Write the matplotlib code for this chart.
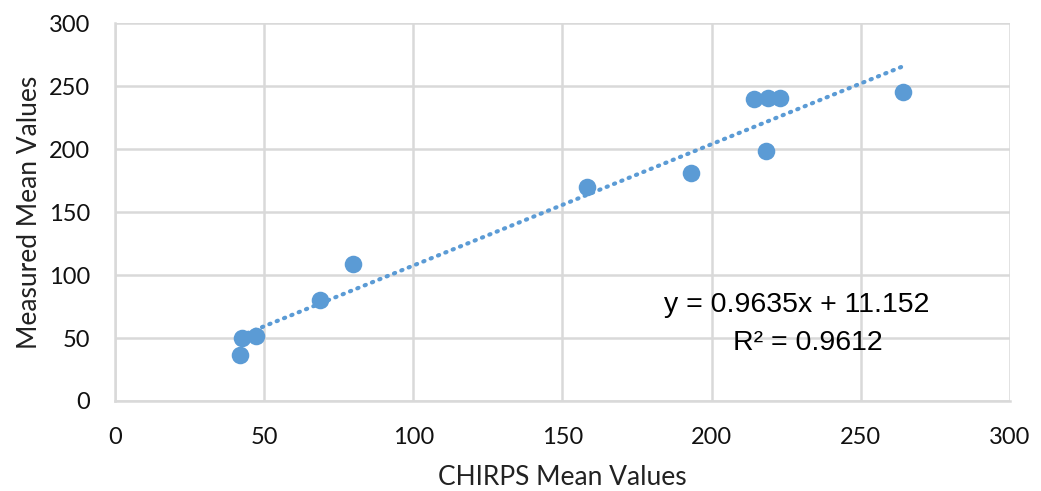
import numpy as np
import matplotlib.pyplot as plt
from matplotlib import rcParams

rcParams['font.family'] = ['Lato', 'DejaVu Sans']

blue = "#5B9BD5"
grid = "#D9D9D9"

chirps = [41.9, 42.5, 47.2, 68.7, 79.7, 158.1, 193.0, 214.4, 219.1, 222.8, 218.1, 264.3]
measured = [36.5, 50.0, 51.6, 80.0, 108.7, 169.8, 181.0, 239.7, 240.5, 240.5, 198.4, 245.2]
slope = 0.9635
intercept = 11.152
r2 = 0.9612

fig = plt.figure(figsize=(10.41, 4.91), dpi=100)
ax = fig.add_axes([0.1105, 0.1833, 0.8595, 0.7697])

ax.scatter(chirps, measured, s=160, color=blue, zorder=3, linewidths=0)
xs = np.array([min(chirps), max(chirps)])
ax.plot(xs, slope*xs + intercept, color=blue, lw=3, linestyle=(0, (0.3, 1.6)),
        dash_capstyle='round', zorder=2)

ax.set_xlim(0, 300)
ax.set_ylim(0, 300)
ax.set_xticks(range(0, 301, 50))
ax.set_yticks(range(0, 301, 50))
ax.grid(True, color=grid, lw=1.8, zorder=0)
ax.set_axisbelow(True)
for s in ['top', 'right']:
    ax.spines[s].set_visible(False)
for s in ['left', 'bottom']:
    ax.spines[s].set_color(grid)
    ax.spines[s].set_linewidth(1.8)
ax.tick_params(length=0, labelsize=17, labelcolor="#111111")
ax.tick_params(axis='x', pad=19)
ax.tick_params(axis='y', pad=18)
ax.set_xlabel("CHIRPS Mean Values", fontsize=19, color="#222222", labelpad=12)
ax.set_ylabel("Measured Mean Values", fontsize=19, color="#222222", labelpad=5)

eq_font = ['Liberation Sans', 'DejaVu Sans']
ax.text(797, 491 - 305, "y = %.4fx + %.3f" % (slope, intercept), transform=None,
        fontsize=20.5, family=eq_font, ha='center', va='center')
ax.text(808, 491 - 343, "R² = %.4f" % r2, transform=None,
        fontsize=20.5, family=eq_font, ha='center', va='center')

fig.savefig("out.png", dpi=100)
